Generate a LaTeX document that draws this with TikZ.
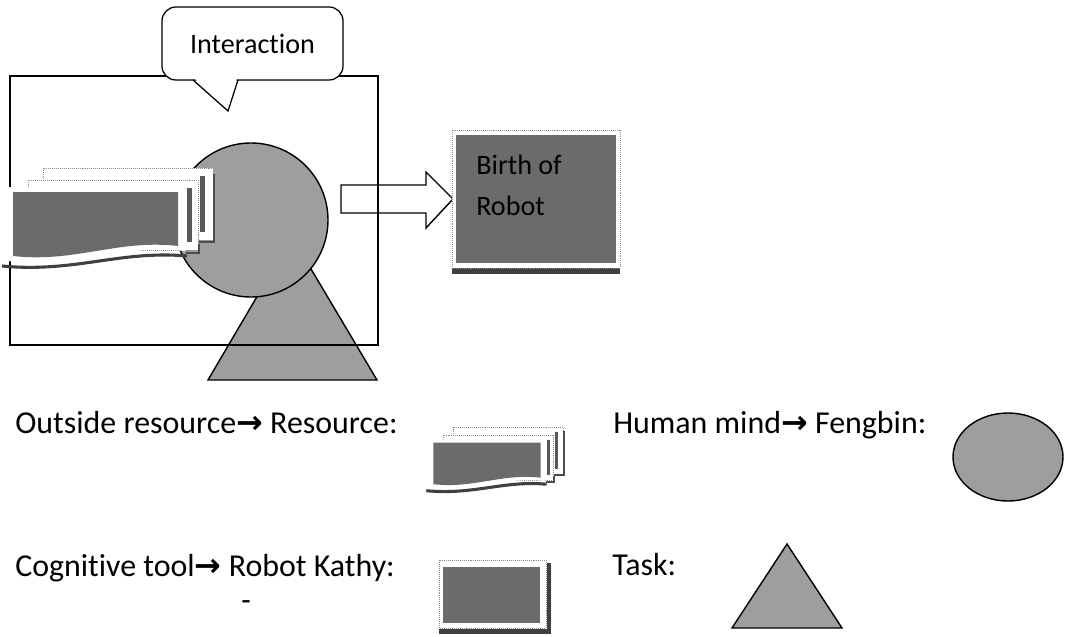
\documentclass[tikz,border=0pt]{standalone}
\usepackage{fontspec}
\setmainfont{Carlito}[Ligatures=NoCommon]
\newfontfamily\arrowfont{DejaVu Sans}
\usepackage{tikz}
\newcommand{\goesto}{{\arrowfont\bfseries →}}
\tikzset{
    task/.style={fill=black!38, draw=black, line width=1pt},
    darkpage/.style={fill=black!58},
    paper/.style={draw=black!45, densely dotted, fill=white},
    legend/.style={anchor=base west, inner sep=0pt, font=\fontsize{22.7}{27}\selectfont},
    pics/resource/.style={code={
        \filldraw[paper] (43,0) rectangle (213,72);
        \fill[black!65] (200,8) rectangle (205,64);
        \filldraw[paper] (28,12) rectangle (198,82);
        \fill[black!65] (187,20) rectangle (192,74);
        \draw[black!70, line width=1.6pt] (186,85) -- (199,85) -- (199,76);
        \draw[black!70, line width=1.6pt] (199,74) -- (214,74) -- (214,6);
        \fill[white] (8,19) -- (185,19) -- (185,83) .. controls (120,76) and (75,100) .. (8,93) -- cycle;
        \fill[darkpage] (13,24) -- (178,24) -- (178,78) .. controls (118,71) and (75,95) .. (13,88) -- cycle;
        \draw[black!75, line width=2.2pt] (2,98) .. controls (75,105) and (120,82) .. (187,88);
    }}
}

\begin{document}
\begin{tikzpicture}[x=0.025cm, y=-0.025cm]
    \useasboundingbox (0,0) rectangle (1066,637);
    \filldraw[task] (208,380) -- (292,237) -- (377,380) -- cycle;
    \filldraw[task] (251,220) circle [radius=77];
    \filldraw[fill=white, line width=1pt] (341,185) -- (426,185) -- (426,172) -- (453,199) -- (426,228) -- (426,213) -- (341,213) -- cycle;
    \draw[line width=1.1pt] (10,76) rectangle (378,345);
    \pic at (0,168) {resource};
    \node[draw, fill=white, line width=0.9pt, rounded corners=0.35cm, minimum width=4.525cm, minimum height=1.825cm,
          font=\fontsize{20}{24}\selectfont] (talk) at (252.5,43.5) {Interaction};
    \fill[white] (194,78) -- (237,78) -- (228,111) -- cycle;
    \draw[line width=0.9pt] (193,80) -- (228,111) -- (238,80);

    \fill[black!75] (452,268) rectangle (620,274);
    \filldraw[paper] (452,130) rectangle (620,268);
    \fill[darkpage] (456,135) rectangle (616,263);
    \node[anchor=base west, align=left, inner sep=0pt, font=\fontsize{20}{28.5}\selectfont] (birth) at (476,215) {Birth of\\Robot};

    \node[legend] (outside) at (15,433) {Outside resource\goesto{} Resource:};
    \pic[scale=0.65] at (425,427) {resource};
    \node[legend] (mind) at (613,433) {Human mind\goesto{} Fengbin:};
    \filldraw[task] (1008,457) ellipse [x radius=55, y radius=44];

    \node[legend] (tool) at (15,576) {Cognitive tool\goesto{} Robot Kathy:};
    \node[anchor=center, inner sep=0pt, font=\fontsize{22}{26}\selectfont] (dash) at (246,606) {-};
    \fill[black!75] (439,629) rectangle (551,634);
    \fill[black!75] (547,563) rectangle (551,634);
    \filldraw[paper] (439,560) rectangle (546,628);
    \fill[darkpage] (443,567) rectangle (540,623);
    \node[legend] (task) at (612,575) {Task:};
    \filldraw[task] (732,628) -- (787,544) -- (842,628) -- cycle;
\end{tikzpicture}
\end{document}
